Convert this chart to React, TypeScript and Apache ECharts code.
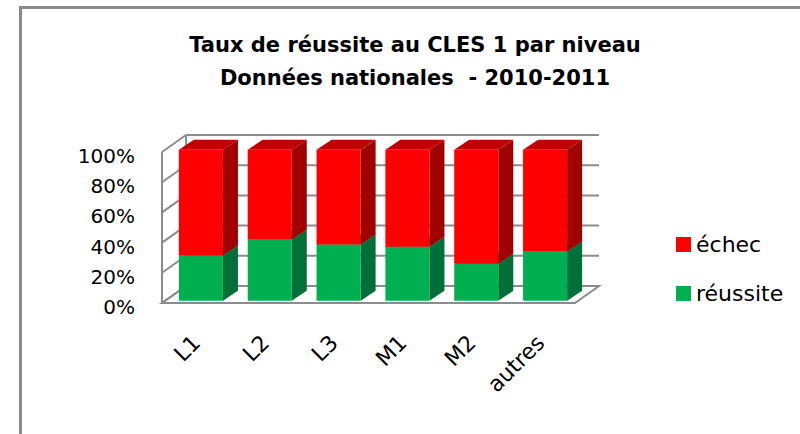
import React, { useEffect, useRef } from "react";
import * as echarts from "echarts";

const CATEGORIES = ["L1", "L2", "L3", "M1", "M2", "autres"];
const REUSSITE = [30, 40.5, 37.3, 35.7, 24.4, 32.6];
const ECHEC = [70, 59.5, 62.7, 64.3, 75.6, 67.4];
const Y_TICKS = [0, 20, 40, 60, 80, 100];
const TITLE_LINES = ["Taux de réussite au CLES 1 par niveau", "Données nationales  - 2010-2011"];

// 3D styling constants
const WALL_DX = 24;
const WALL_DY = -17;
const BAR_OFF_X = 4.5;
const BAR_OFF_Y = -2.3;
const BAR_DX = 15;
const BAR_DY = -10;
const GRAY = "#8c8c8c";
const LABEL_GAP = 27;
const LABEL_SHIFT = 4;

function makeBarRenderer(front: string, top: string, side: string) {
  return (params: any, api: any) => {
    const cat = api.value(0);
    const lo = api.value(1);
    const hi = api.value(2);
    const pLo = api.coord([cat, lo]);
    const pHi = api.coord([cat, hi]);
    const bw = api.size([1, 0])[0] * 0.64;
    const x0 = pLo[0] - bw / 2 + BAR_OFF_X;
    const x1 = x0 + bw;
    const yb = pLo[1] + BAR_OFF_Y;
    const yt = pHi[1] + BAR_OFF_Y;
    return {
      type: "group",
      children: [
        {
          type: "polygon",
          shape: { points: [[x1, yb], [x1 + BAR_DX, yb + BAR_DY], [x1 + BAR_DX, yt + BAR_DY], [x1, yt]] },
          style: { fill: side },
        },
        {
          type: "polygon",
          shape: { points: [[x0, yt], [x1, yt], [x1 + BAR_DX, yt + BAR_DY], [x0 + BAR_DX, yt + BAR_DY]] },
          style: { fill: top },
        },
        {
          type: "rect",
          shape: { x: x0, y: yt, width: bw, height: yb - yt },
          style: { fill: front },
        },
      ],
    };
  };
}

function renderWalls(params: any, api: any) {
  const v = api.value(1);
  const cs = params.coordSys;
  const y = api.coord([0, v])[1];
  const x0 = cs.x;
  const x1 = cs.x + cs.width;
  const ls = { stroke: GRAY, lineWidth: 2, fill: null };
  const children: any[] = [];
  if (v === 0) {
    children.push({
      type: "polygon",
      shape: { points: [[x0, y], [x1, y], [x1 + WALL_DX, y + WALL_DY], [x0 + WALL_DX, y + WALL_DY]] },
      style: { stroke: GRAY, lineWidth: 2, fill: "#ffffff" },
    });
  } else {
    children.push({
      type: "line",
      shape: { x1: x0 + WALL_DX, y1: y + WALL_DY, x2: x1 + WALL_DX, y2: y + WALL_DY },
      style: ls,
    });
  }
  children.push({
    type: "line",
    shape: { x1: x0, y1: y, x2: x0 + WALL_DX, y2: y + WALL_DY },
    style: ls,
  });
  children.push({
    type: "text",
    style: {
      text: v + "%",
      x: x0 - LABEL_GAP,
      y: y + LABEL_SHIFT,
      align: "right",
      verticalAlign: "middle",
      font: "20px 'DejaVu Sans'",
      fill: "#000000",
    },
  });
  if (params.dataIndex === 0) {
    children.push({
      type: "line",
      shape: { x1: x0, y1: cs.y, x2: x0, y2: cs.y + cs.height },
      style: ls,
    });
    children.push({
      type: "line",
      shape: { x1: x0 + WALL_DX, y1: cs.y + WALL_DY, x2: x0 + WALL_DX, y2: cs.y + cs.height + WALL_DY },
      style: ls,
    });
  }
  return { type: "group", children };
}

export default function App() {
  const ref = useRef<HTMLDivElement>(null);
  useEffect(() => {
    if (!ref.current) return;
    const chart = echarts.init(ref.current, null, { renderer: "svg" });
    const option: any = {
      animation: false,
      backgroundColor: "#ffffff",
      graphic: [
        {
          type: "rect",
          shape: { x: 20.5, y: 7.5, width: 820, height: 460 },
          style: { fill: null, stroke: "#8a8a8a", lineWidth: 3 },
          silent: true,
        },
        {
          type: "text",
          style: {
            text: TITLE_LINES[0],
            x: 415,
            y: 45,
            align: "center",
            verticalAlign: "middle",
            font: "bold 21px 'DejaVu Sans'",
            fill: "#000000",
          },
        },
        {
          type: "text",
          style: {
            text: TITLE_LINES[1],
            x: 415,
            y: 78,
            align: "center",
            verticalAlign: "middle",
            font: "bold 21px 'DejaVu Sans'",
            fill: "#000000",
          },
        },
      ],
      legend: {
        orient: "vertical",
        left: 671,
        top: 228.5,
        itemWidth: 15,
        itemHeight: 15,
        itemGap: 27,
        icon: "rect",
        data: ["échec", "réussite"],
        textStyle: { fontFamily: "DejaVu Sans", fontSize: 22, lineHeight: 22, color: "#000000" },
      },
      grid: { left: 162, right: 225, top: 152, bottom: 131 },
      xAxis: {
        type: "category",
        data: CATEGORIES,
        axisLine: { show: false },
        axisTick: { show: false },
        splitLine: { show: false },
        axisLabel: {
          rotate: 45,
          margin: 36,
          fontFamily: "DejaVu Sans",
          fontSize: 22,
          color: "#000000",
        },
      },
      yAxis: {
        type: "value",
        min: 0,
        max: 100,
        interval: 20,
        axisLine: { show: false },
        axisTick: { show: false },
        splitLine: { show: false },
        axisLabel: { show: false },
      },
      series: [
        {
          name: "walls",
          type: "custom",
          silent: true,
          z: 1,
          data: Y_TICKS.map((t) => [0, t]),
          encode: { x: 0, y: 1 },
          renderItem: renderWalls,
        },
        {
          name: "réussite",
          type: "custom",
          z: 2,
          itemStyle: { color: "#00B050" },
          data: REUSSITE.map((v, i) => [i, 0, v]),
          encode: { x: 0, y: [1, 2] },
          renderItem: makeBarRenderer("#00B050", "#009040", "#007038"),
        },
        {
          name: "échec",
          type: "custom",
          z: 3,
          itemStyle: { color: "#FF0000" },
          data: ECHEC.map((v, i) => [i, REUSSITE[i], REUSSITE[i] + v]),
          encode: { x: 0, y: [1, 2] },
          renderItem: makeBarRenderer("#FF0000", "#C00000", "#A00000"),
        },
      ],
    };
    chart.setOption(option);
    return () => chart.dispose();
  }, []);
  return (
    <div
      ref={ref}
      style={{ position: "fixed", left: 0, top: 0, width: 800, height: 434, background: "#ffffff" }}
    />
  );
}
